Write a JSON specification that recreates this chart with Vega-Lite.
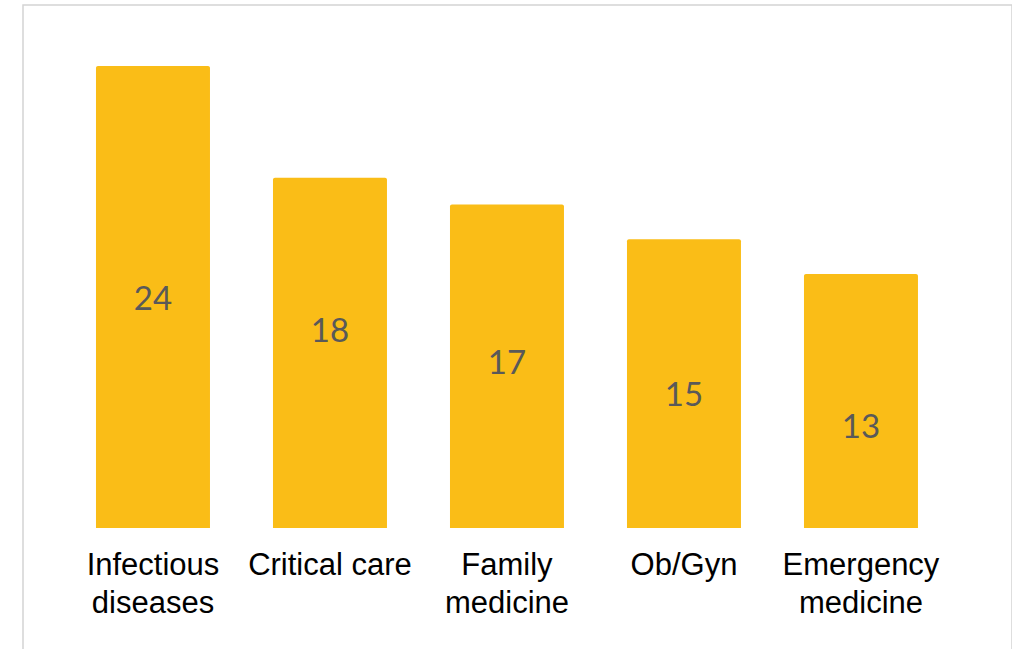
{
  "$schema": "https://vega.github.io/schema/vega-lite/v6.json",
  "autosize": {"type": "none"},
  "width": 989,
  "height": 650,
  "padding": {"left": 23, "top": 5, "right": 0, "bottom": 0},
  "background": "white",
  "config": {
    "view": {"stroke": "#D4D4D4", "strokeWidth": 1.5},
    "font": "Liberation Sans"
  },
  "data": {
    "values": [
      {"specialty": "Infectious|diseases", "value": 24},
      {"specialty": "Critical care", "value": 18.2},
      {"specialty": "Family|medicine", "value": 16.8},
      {"specialty": "Ob/Gyn", "value": 15},
      {"specialty": "Emergency|medicine", "value": 13.2}
    ]
  },
  "encoding": {
    "x": {
      "field": "specialty",
      "type": "nominal",
      "sort": null,
      "scale": {"paddingInner": 0.356, "paddingOuter": 0.4718, "align": 0.437},
      "axis": {
        "title": null,
        "orient": "bottom",
        "offset": -127,
        "domain": false,
        "ticks": false,
        "labelAngle": 0,
        "labelFont": "Liberation Sans",
        "labelFontSize": 31,
        "labelColor": "#000000",
        "labelPadding": 22,
        "labelLineHeight": 38,
        "labelBaseline": "top",
        "labelExpr": "split(datum.label, '|')"
      }
    }
  },
  "layer": [
    {
      "mark": {"type": "bar", "color": "#FABD17", "cornerRadiusTopLeft": 2, "cornerRadiusTopRight": 2},
      "encoding": {
        "y": {
          "field": "value",
          "type": "quantitative",
          "scale": {"domain": [-6.597, 27.169], "nice": false, "zero": false},
          "axis": null
        },
        "y2": {"datum": 0}
      }
    },
    {
      "transform": [
        {"window": [{"op": "row_number", "as": "idx"}]},
        {"calculate": "11.85 - 1.663 * (datum.idx - 1)", "as": "labelPos"}
      ],
      "mark": {"type": "text", "font": "Lato", "fontSize": 33, "color": "#595959", "baseline": "middle", "align": "center"},
      "encoding": {
        "y": {"field": "labelPos", "type": "quantitative", "scale": {"domain": [-6.597, 27.169], "nice": false, "zero": false}, "axis": null},
        "text": {"field": "value", "type": "quantitative", "format": ".0f"}
      }
    }
  ]
}
